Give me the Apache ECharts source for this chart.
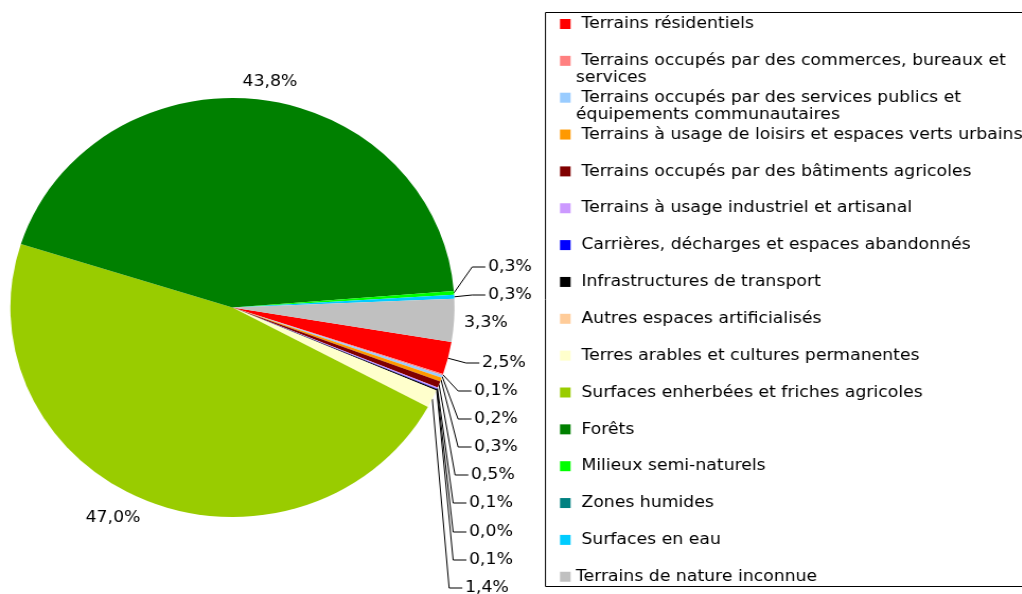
<!DOCTYPE html>
<html>
<head>
<meta charset="utf-8">
<script src="https://cdn.jsdelivr.net/npm/echarts@6/dist/echarts.min.js"></script>
<style>
  html, body { margin: 0; padding: 0; background: #ffffff; overflow: hidden; width: 1022px; height: 594px; }
  /* the reference is drawn slightly wider than tall (elliptical pie, wide text) */
  #chart { width: 964px; height: 594px; transform: scaleX(1.06); transform-origin: 0 0; }
</style>
</head>
<body>
<div id="chart"></div>
<script>
// ---- data ----
const categories = [
  'Terrains résidentiels',
  'Terrains occupés par des commerces, bureaux et services',
  'Terrains occupés par des services publics et équipements communautaires',
  'Terrains à usage de loisirs et espaces verts urbains',
  'Terrains occupés par des bâtiments agricoles',
  'Terrains à usage industriel et artisanal',
  'Carrières, décharges et espaces abandonnés',
  'Infrastructures de transport',
  'Autres espaces artificialisés',
  'Terres arables et cultures permanentes',
  'Surfaces enherbées et friches agricoles',
  'Forêts',
  'Milieux semi-naturels',
  'Zones humides',
  'Surfaces en eau',
  'Terrains de nature inconnue'
];
// share of the territory, in %
const shares = [2.5, 0.1, 0.2, 0.3, 0.5, 0.1, 0.04, 0.1, null, 1.4, 47.0, 43.8, 0.3, null, 0.3, 3.3];
const colors = [
  '#FF0000', '#FF8080', '#99CCFF', '#FF9900', '#800000', '#CC99FF', '#0000FF', '#000000',
  '#FFCC99', '#FFFFCC', '#99CC00', '#008000', '#00FF00', '#008080', '#00CCFF', '#C0C0C0'
];

// ---- label placement (layout only, in chart pixels) ----
// [x, y, mode] ; mode: 'line' = leader line, 'free' = left aligned no line, 'center' = centred no line
const labelSpots = {
  12: [460.4, 267, 'line'],
  14: [460.4, 295, 'line'],
  15: [437.7, 323, 'free'],
  0:  [454.7, 363, 'line'],
  1:  [447.2, 391, 'line'],
  2:  [447.2, 419, 'line'],
  3:  [447.2, 447, 'line'],
  4:  [444.3, 475, 'line'],
  5:  [442.5, 503, 'line'],
  6:  [442.5, 532, 'line'],
  7:  [442.5, 560, 'line'],
  9:  [438.7, 588, 'line'],
  10: [106.6, 518, 'center'],
  11: [254.7, 82, 'center']
};

const FONT = 'DejaVu Sans';
const FONT_SIZE = 16.3;

function fmtPct(v) {
  return v.toFixed(1).replace('.', ',') + '%';
}

function wrap(s, max) {
  const words = s.split(' ');
  const lines = [];
  let cur = '';
  for (const w of words) {
    if (cur && (cur + ' ' + w).length > max) { lines.push(cur); cur = w; }
    else { cur = cur ? cur + ' ' + w : w; }
  }
  lines.push(cur);
  if (lines.length < 2) lines.push('');
  return lines;
}

const seriesData = categories.map((name, i) => {
  const v = shares[i];
  const spot = labelSpots[i];
  const item = {
    name: name,
    value: v == null ? '-' : v,
    itemStyle: { color: colors[i] }
  };
  if (!spot) {
    item.label = { show: false };
    item.labelLine = { show: false };
  } else if (spot[2] !== 'line') {
    item.labelLine = { show: false };
  }
  return item;
});

const chart = echarts.init(document.getElementById('chart'), null, { renderer: 'canvas' });

chart.setOption({
  backgroundColor: '#ffffff',
  animation: false,
  graphic: [{
    type: 'rect',
    shape: { x: 514.6, y: 12.5, width: 520, height: 574 },
    style: { fill: 'none', stroke: '#000000', lineWidth: 1 },
    silent: true
  }],
  legend: {
    orient: 'vertical',
    left: 528.3,
    top: 15.5,
    height: 660,
    padding: 0,
    itemGap: 2.85,
    itemWidth: 10,
    itemHeight: 27,
    icon: 'path://M0,0h10v10h-10zM0,27',
    selectedMode: false,
    textStyle: { fontFamily: FONT, fontSize: FONT_SIZE, lineHeight: 17, color: '#000000' },
    formatter: function (name) {
      const i = categories.indexOf(name);
      const lines = wrap(name, 52);
      if (i !== categories.length - 1) lines[0] = ' ' + lines[0];
      return lines.join('\n');
    },
    data: categories
  },
  series: [{
    type: 'pie',
    center: [219.3, 307.5],
    radius: 209.5,
    startAngle: -9.5,
    clockwise: true,
    avoidLabelOverlap: false,
    silent: true,
    emphasis: { disabled: true },
    itemStyle: { borderWidth: 0 },
    label: {
      show: true,
      position: 'outside',
      fontFamily: FONT,
      fontSize: FONT_SIZE,
      color: '#000000',
      formatter: function (p) { return fmtPct(p.value); }
    },
    labelLine: {
      show: true,
      smooth: false,
      length: 10,
      length2: 10,
      lineStyle: { color: '#000000', width: 1 }
    },
    labelLayout: function (p) {
      const s = labelSpots[p.dataIndex];
      if (!s) return {};
      const x = s[0], y = s[1], mode = s[2];
      const out = { x: x, y: y, verticalAlign: 'middle', align: mode === 'center' ? 'center' : 'left' };
      if (mode === 'line' && p.labelLinePoints && p.labelLinePoints.length) {
        const a = p.labelLinePoints[0];
        out.labelLinePoints = [[a[0], a[1]], [x - 15, y], [x - 2.5, y]];
      }
      return out;
    },
    data: seriesData
  }]
});
</script>
</body>
</html>
